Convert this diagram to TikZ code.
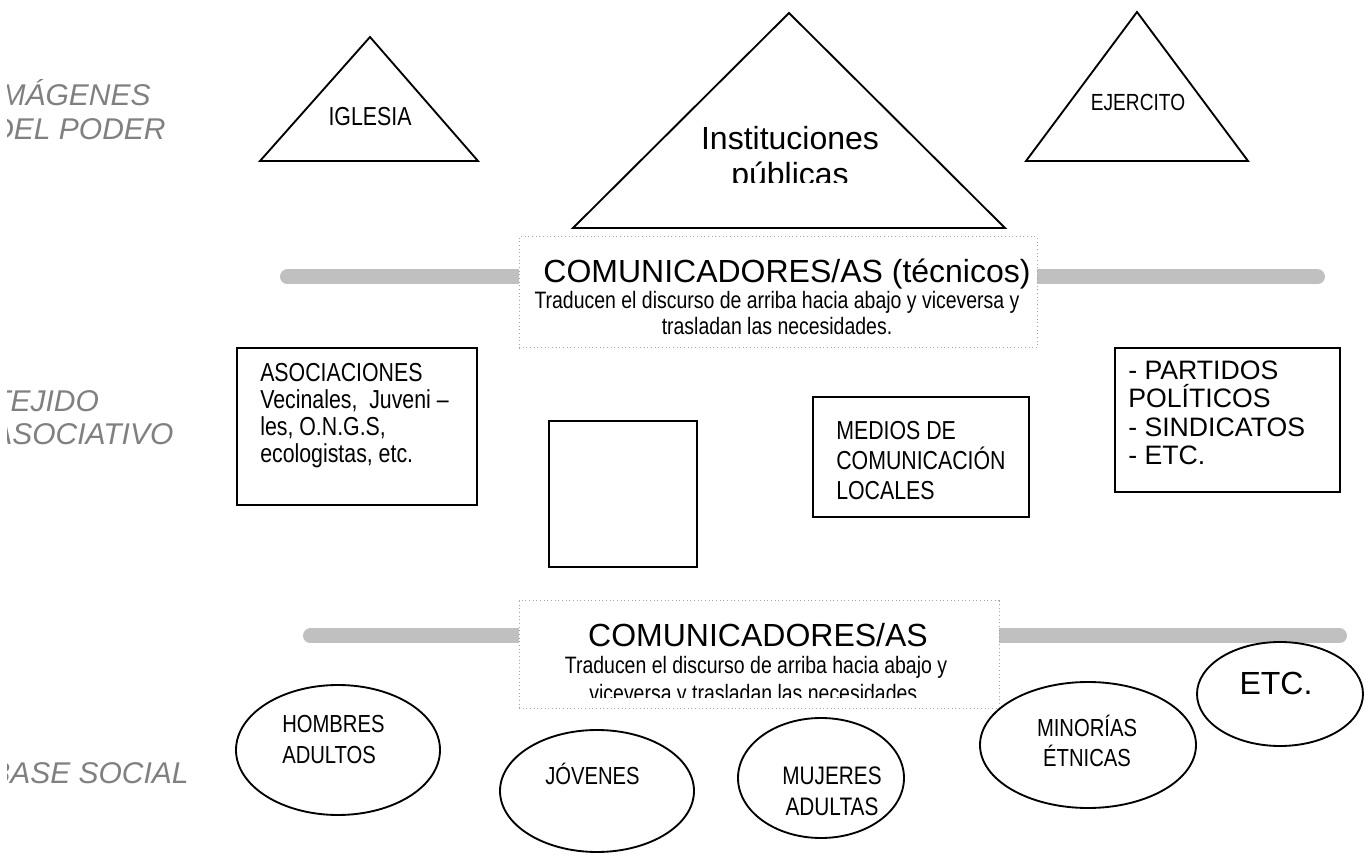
\documentclass[tikz,border=0pt]{standalone}
\usepackage{fontspec}
\setmainfont{Liberation Sans}
\newfontfamily\narrowfont[FakeStretch=0.82]{Liberation Sans}
\usetikzlibrary{shapes.geometric}
\definecolor{tiergray}{RGB}{128,128,128}
\definecolor{railgray}{RGB}{192,192,192}
\definecolor{dotgray}{RGB}{165,165,165}
\tikzset{
  tier/.style={text=tiergray, font=\itshape\fontsize{22.5}{26}\selectfont, align=left, anchor=base west, inner sep=0pt},
  rail/.style={line width=11.25pt, railgray, line cap=round},
  commbox/.style={draw=dotgray, dotted, fill=white, line width=0.75pt, rectangle, inner sep=0pt},
  entity/.style={draw, line width=1.4pt, inner sep=0pt},
  group/.style={entity, ellipse},
  slim/.style={font=\narrowfont\fontsize{18.5}{23.25}\selectfont, inner sep=0pt, align=left},
  slimc/.style={slim, align=center, anchor=base}
}

\begin{document}
\begin{tikzpicture}[x=0.75pt, y=-0.75pt]
\clip (0,0) rectangle (1365,855);

% niveles (base = ultima linea)
\begin{scope}
  \clip (7,0) rectangle (300,855);
  \node[tier] (poder) at (-8,140) {IMÁGENES\\DEL PODER};
  \node[tier, font=\itshape\fontsize{22.5}{25}\selectfont] (tejido) at (-8,445) {TEJIDO\\ASOCIATIVO};
  \node[tier] (base) at (-10,783) {BASE SOCIAL};
\end{scope}

% barras
\draw[rail] (287.5,277) -- (1317.5,277);
\draw[rail] (310.5,636) -- (1339.5,636);

% triangulos
\coordinate (igl-top) at (370,37);
\coordinate (igl-l) at (260,161);
\coordinate (igl-r) at (478,161);
\draw[entity] (igl-top) -- (igl-r) -- (igl-l) -- cycle;
\node[slimc, font=\narrowfont\fontsize{19.5}{23}\selectfont] (iglesia) at (370,126) {IGLESIA};

\coordinate (inst-top) at (789,13);
\coordinate (inst-l) at (573,228);
\coordinate (inst-r) at (1005,228);
\draw[entity] (inst-top) -- (inst-r) -- (inst-l) -- cycle;
\begin{scope}
  \clip (600,100) rectangle (980,183);
  \node[align=center, anchor=base, inner sep=0pt, font=\fontsize{24}{27}\selectfont] (instit) at (790,186) {Instituciones\\públicas};
\end{scope}

\coordinate (ejer-top) at (1137,12);
\coordinate (ejer-l) at (1026,161);
\coordinate (ejer-r) at (1248,161);
\draw[entity] (ejer-top) -- (ejer-r) -- (ejer-l) -- cycle;
\node[slimc, font=\narrowfont\fontsize{17.5}{20}\selectfont] (ejercito) at (1138,111) {EJERCITO};

% comunicadores
\node[commbox, minimum width=388.5pt, minimum height=83.25pt] (com1) at (778,292.5) {};
\node[anchor=base, inner sep=0pt, font=\fontsize{24}{27}\selectfont] (com1-t) at (787,283) {COMUNICADORES/AS (técnicos)};
\node[slimc, font=\narrowfont\fontsize{17.8}{19.5}\selectfont] (com1-s) at (777,335) {Traducen el discurso de arriba hacia abajo y viceversa y\\trasladan las necesidades.};

\node[commbox, minimum width=360pt, minimum height=80.25pt] (com2) at (759,654.5) {};
\node[anchor=base, inner sep=0pt, font=\fontsize{24}{27}\selectfont] (com2-t) at (758,647) {COMUNICADORES/AS};
\begin{scope}
  \clip (530,650) rectangle (990,697);
  \node[slimc, font=\narrowfont\fontsize{17.8}{21}\selectfont] (com2-s) at (756,701) {Traducen el discurso de arriba hacia abajo y\\viceversa y trasladan las necesidades.};
\end{scope}

% tejido asociativo
\node[entity, minimum width=180pt, minimum height=117.75pt] (asoc) at (357,426.5) {};
\node[slim, anchor=base west, font=\narrowfont\fontsize{19.5}{20.25}\selectfont] (asoc-t) at (260,463) {ASOCIACIONES\\Vecinales,~ Juveni –\\les, O.N.G.S,\\ecologistas, etc.};
\node[entity, minimum width=111pt, minimum height=109.5pt] (vacio) at (623,494) {};
\node[entity, minimum width=162pt, minimum height=90pt] (medios) at (921,457) {};
\node[slim, anchor=base west, font=\narrowfont\fontsize{19.5}{22.5}\selectfont] (medios-t) at (836,500) {MEDIOS DE\\COMUNICACIÓN\\LOCALES};
\node[entity, minimum width=168.75pt, minimum height=108pt] (partidos) at (1227.5,420) {};
\node[anchor=base west, align=left, inner sep=0pt, font=\fontsize{20}{21.4}\selectfont] (partidos-t) at (1128,465) {- PARTIDOS\\POLÍTICOS\\- SINDICATOS\\- ETC.};

% base social
\node[group, minimum width=153pt, minimum height=97.5pt] (hombres) at (338,750) {};
\node[slim, anchor=base west] (hombres-t) at (282,763) {HOMBRES\\ADULTOS};
\node[group, minimum width=145.5pt, minimum height=91.5pt] (jovenes) at (597,791) {};
\node[slim, anchor=base west] (jovenes-t) at (545,784) {JÓVENES};
\node[group, minimum width=124.5pt, minimum height=90pt] (mujeres) at (821,778) {};
\node[slimc, font=\narrowfont\fontsize{19}{23.25}\selectfont] (mujeres-t) at (832,815) {MUJERES\\ADULTAS};
\node[group, minimum width=162pt, minimum height=94.5pt] (minorias) at (1088,745) {};
\node[slimc, font=\narrowfont\fontsize{18.5}{22}\selectfont] (minorias-t) at (1087,766) {MINORÍAS\\ÉTNICAS};
\node[group, minimum width=124.5pt, minimum height=78pt] (etc) at (1280,694) {};
\node[anchor=base, inner sep=0pt, font=\fontsize{24}{27}\selectfont] (etc-t) at (1276,695) {ETC.};
\end{tikzpicture}
\end{document}
